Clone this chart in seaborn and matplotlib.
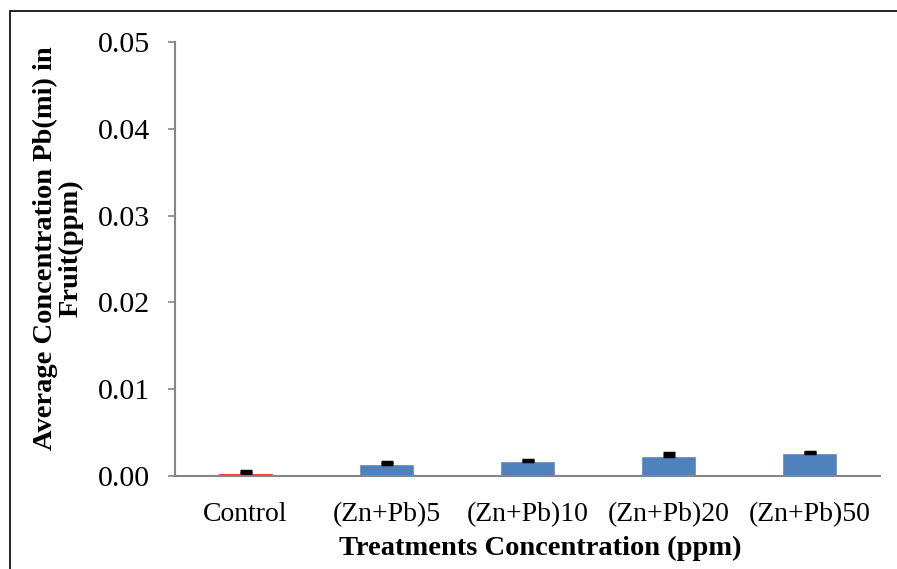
import numpy as np
import pandas as pd
import matplotlib
matplotlib.use('Agg')
import matplotlib.pyplot as plt
import seaborn as sns
from matplotlib.patches import Rectangle

treatments = ['Control', '(Zn+Pb)5', '(Zn+Pb)10', '(Zn+Pb)20', '(Zn+Pb)50']
means = [0.0003, 0.0014, 0.0017, 0.0023, 0.0026]
errors = [0.0003, 0.0002, 0.0002, 0.0003, 0.0002]
bar_colors = ['#FF0000', '#4F81BD', '#4F81BD', '#4F81BD', '#4F81BD']
yticks = [0.00, 0.01, 0.02, 0.03, 0.04, 0.05]

df = pd.DataFrame({'treatment': treatments, 'mean': means})

sns.set_style('white')
plt.rcParams['font.family'] = ['Liberation Serif', 'DejaVu Serif']
plt.rcParams['text.color'] = 'black'
plt.rcParams['xtick.color'] = 'black'
plt.rcParams['ytick.color'] = 'black'

fig = plt.figure(figsize=(8.97, 5.69), dpi=100)
W, H = 897, 569
ax = fig.add_axes([175 / W, 1 - 476 / H, 705 / W, 434 / H])

sns.barplot(data=df, x='treatment', y='mean', hue='treatment', palette=bar_colors,
            legend=False, width=0.39, ax=ax, saturation=1, errorbar=None)
ax.errorbar(np.arange(len(treatments)), means, yerr=[[0] * 5, errors], fmt='none',
            ecolor='black', elinewidth=1, capsize=4.5, capthick=2.5)

ax.set_ylim(0, 0.05)
ax.set_xlim(-0.5, 4.5)
ax.set_yticks(yticks)
ax.set_yticklabels([f'{v:.2f}' for v in yticks], fontsize=21.5)
ax.tick_params(axis='y', length=5, width=1.2, color='#868686', labelcolor='black',
               direction='out', pad=13, left=True)
ax.tick_params(axis='x', length=0, labelsize=20, labelcolor='black', pad=19)
for s in ['top', 'right']:
    ax.spines[s].set_visible(False)
for s in ['left', 'bottom']:
    ax.spines[s].set_color('#868686')
    ax.spines[s].set_linewidth(1.5)
ax.set_xlabel('')
ax.set_ylabel('')

fig.text(540 / W, 1 - 548 / H, 'Treatments Concentration (ppm)', ha='center', va='center',
         fontsize=20.5, fontweight='bold', color='black')
fig.text(58 / W, 1 - 248 / H, 'Average Concentration Pb(mi) in\nFruit(ppm)', ha='center',
         va='center', rotation=90, fontsize=20.5, fontweight='bold', linespacing=1.0,
         color='black')

fig.patches.append(Rectangle((10 / W, -0.1), 1.2, 1 - 11 / H + 0.1, transform=fig.transFigure,
                             fill=False, edgecolor='black', linewidth=1.2))

fig.savefig('out.png', dpi=100)
